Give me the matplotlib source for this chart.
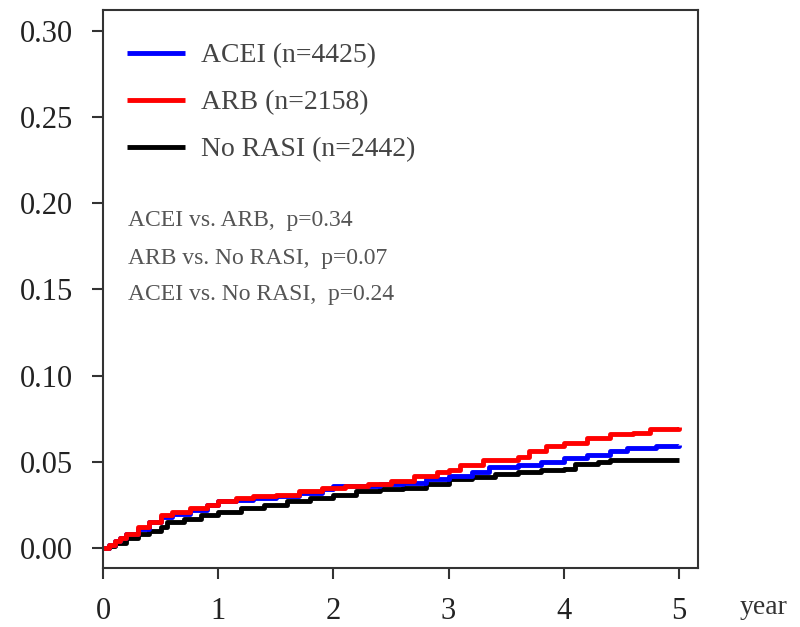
import matplotlib
matplotlib.use("Agg")
import matplotlib.pyplot as plt

plt.rcParams['font.family'] = ['Liberation Serif', 'DejaVu Serif']

# cumulative incidence (step points)
acei_t = [0, 0.05, 0.1, 0.15, 0.2, 0.3, 0.4, 0.5, 0.6, 0.75, 0.9, 1.0, 1.15, 1.3, 1.5, 1.7, 1.9, 2.0,
          2.2, 2.4, 2.6, 2.8, 3.0, 3.2, 3.35, 3.6, 3.8, 4.0, 4.2, 4.4, 4.55, 4.8, 5.0]
acei_v = [0, 0.002, 0.004, 0.006, 0.008, 0.011, 0.015, 0.018, 0.020, 0.022, 0.025, 0.027, 0.028, 0.029,
          0.030, 0.032, 0.034, 0.036, 0.036, 0.037, 0.038, 0.040, 0.042, 0.044, 0.047, 0.048, 0.050,
          0.052, 0.054, 0.056, 0.058, 0.059, 0.060]

arb_t = [0, 0.05, 0.1, 0.15, 0.2, 0.3, 0.4, 0.5, 0.6, 0.75, 0.9, 1.0, 1.15, 1.3, 1.5, 1.7, 1.9, 2.1,
         2.3, 2.5, 2.7, 2.9, 3.0, 3.1, 3.3, 3.6, 3.7, 3.85, 4.0, 4.2, 4.4, 4.6, 4.75, 5.0]
arb_v = [0, 0.002, 0.004, 0.006, 0.008, 0.012, 0.015, 0.019, 0.021, 0.023, 0.025, 0.027, 0.029, 0.030,
         0.031, 0.033, 0.035, 0.036, 0.037, 0.039, 0.042, 0.044, 0.045, 0.048, 0.051, 0.053, 0.056,
         0.059, 0.061, 0.064, 0.066, 0.067, 0.069, 0.070]

norasi_t = [0, 0.05, 0.1, 0.2, 0.3, 0.4, 0.5, 0.55, 0.7, 0.85, 1.0, 1.2, 1.4, 1.6, 1.8, 2.0, 2.2, 2.4,
            2.6, 2.8, 3.0, 3.2, 3.4, 3.6, 3.8, 4.0, 4.1, 4.3, 4.4, 5.0]
norasi_v = [0, 0.001, 0.003, 0.006, 0.008, 0.010, 0.012, 0.015, 0.017, 0.019, 0.021, 0.023, 0.025,
            0.027, 0.029, 0.031, 0.033, 0.034, 0.035, 0.037, 0.040, 0.041, 0.043, 0.044, 0.045, 0.046,
            0.049, 0.050, 0.051, 0.051]

labels = ['ACEI (n=4425)', 'ARB (n=2158)', 'No RASI (n=2442)']
colors = ['#0000ff', '#ff0000', '#000000']
pvals = ['ACEI vs. ARB,  p=0.34', 'ARB vs. No RASI,  p=0.07', 'ACEI vs. No RASI,  p=0.24']

xticks = [0, 1, 2, 3, 4, 5]
yticks = [0.00, 0.05, 0.10, 0.15, 0.20, 0.25, 0.30]

fig = plt.figure(figsize=(8, 6.27), dpi=100)
ax = fig.add_axes([0.129, 0.094, 0.744, 0.890])

series = [(acei_t, acei_v), (arb_t, arb_v), (norasi_t, norasi_v)]
# draw black first so coloured lines sit on top
for i in [2, 0, 1]:
    t, v = series[i]
    ax.step(t, v, where='post', color=colors[i], lw=3.5, label=labels[i], solid_capstyle='butt')

ax.set_xlim(0, 5.17)
ax.set_ylim(-0.0116, 0.312)
ax.set_xticks(xticks)
ax.set_xticklabels([str(x) for x in xticks])
ax.set_yticks(yticks)
ax.set_yticklabels(['%.2f' % y for y in yticks])

for s in ax.spines.values():
    s.set_color('#333333')
    s.set_linewidth(1.5)
ax.tick_params(axis='both', direction='out', length=8, width=1.5, colors='#333333',
               labelsize=22, labelcolor='#222222')
ax.tick_params(axis='y', pad=14)
ax.tick_params(axis='x', pad=13)

handles, labs = ax.get_legend_handles_labels()
order = [labs.index(l) for l in labels]
leg = ax.legend([handles[i] for i in order], [labs[i] for i in order],
                loc='upper left', bbox_to_anchor=(0.040, 0.941), frameon=False,
                fontsize=20, handlelength=2.1, handletextpad=0.55, labelspacing=0.78,
                borderpad=0, borderaxespad=0)
for txt in leg.get_texts():
    txt.set_color('#444444')

py = [0.1902, 0.1681, 0.1471]
for s, y in zip(pvals, py):
    ax.text(0.217, y, s, fontsize=17, color='#555555', va='center', ha='left')

fig.text(740 / 800, 1 - 608 / 627, 'year', fontsize=20, color='#333333', va='center', ha='left')

fig.savefig('out.png', dpi=100)
